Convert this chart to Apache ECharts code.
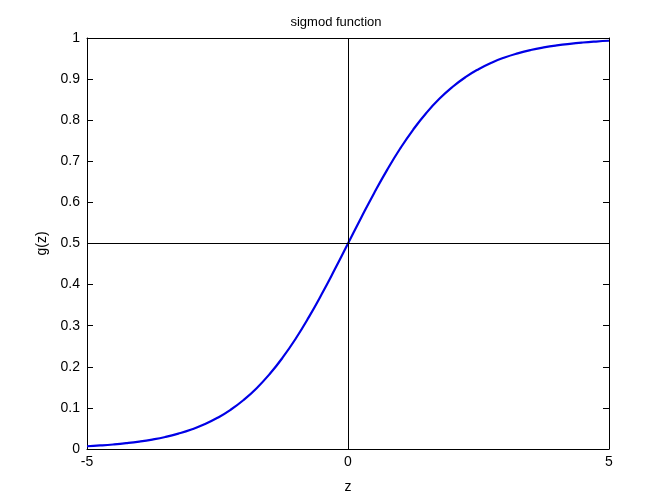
<!DOCTYPE html>
<html>
<head>
<meta charset="utf-8">
<script src="https://cdn.jsdelivr.net/npm/echarts@6/dist/echarts.min.js"></script>
<style>html,body{margin:0;padding:0;background:#fff}#c{width:672px;height:504px}</style>
</head>
<body>
<div id="c"></div>
<script>
const zValues = [-5,-4.75,-4.5,-4.25,-4,-3.75,-3.5,-3.25,-3,-2.75,-2.5,-2.25,-2,-1.75,-1.5,-1.25,-1,-0.75,-0.5,-0.25,0,0.25,0.5,0.75,1,1.25,1.5,1.75,2,2.25,2.5,2.75,3,3.25,3.5,3.75,4,4.25,4.5,4.75,5];
const gValues = [0.0067,0.0086,0.011,0.0141,0.018,0.023,0.0293,0.0374,0.0474,0.060,0.0759,0.0953,0.1192,0.148,0.1824,0.2227,0.2689,0.3208,0.3775,0.4378,0.5,0.5622,0.6225,0.6792,0.7311,0.7773,0.8176,0.852,0.8808,0.9047,0.9241,0.940,0.9526,0.9626,0.9707,0.977,0.982,0.9859,0.989,0.9914,0.9933];
const titleText = 'sigmod function';
const xLabel = 'z';
const yLabel = 'g(z)';

const font = 'Liberation Sans, Arial, sans-serif';
const chart = echarts.init(document.getElementById('c'), null, {renderer:'canvas'});
const axisLineStyle = {show:true, onZero:false, lineStyle:{color:'#000', width:1}};
chart.setOption({
  animation:false,
  backgroundColor:'#fff',
  title:{text:titleText, left:'center', top:11, textStyle:{fontFamily:font, fontSize:13, fontWeight:'normal', color:'#000'}},
  grid:{left:87, right:63, top:38, bottom:55, containLabel:false},
  xAxis:[
    {type:'value', min:-5, max:5, interval:5, position:'bottom',
     name:xLabel, nameLocation:'middle', nameGap:31, nameTextStyle:{fontFamily:font, fontSize:14, color:'#000'},
     axisLine:axisLineStyle, axisTick:{show:true, inside:true, length:6, lineStyle:{color:'#000'}},
     axisLabel:{fontFamily:font, fontSize:14, color:'#000', margin:6}, splitLine:{show:false}},
    {type:'value', min:-5, max:5, interval:5, position:'top',
     axisLine:axisLineStyle, axisTick:{show:true, inside:true, length:6, lineStyle:{color:'#000'}},
     axisLabel:{show:false}, splitLine:{show:false}}
  ],
  yAxis:[
    {type:'value', min:0, max:1, interval:0.1, position:'left',
     name:yLabel, nameLocation:'middle', nameGap:36, nameTextStyle:{fontFamily:font, fontSize:14, color:'#000'},
     axisLine:axisLineStyle, axisTick:{show:true, inside:true, length:6, lineStyle:{color:'#000'}},
     axisLabel:{fontFamily:font, fontSize:14, color:'#000', margin:7, formatter:v=>String(Math.round(v*10)/10)}, splitLine:{show:false}},
    {type:'value', min:0, max:1, interval:0.1, position:'right',
     axisLine:axisLineStyle, axisTick:{show:true, inside:true, length:6, lineStyle:{color:'#000'}},
     axisLabel:{show:false}, splitLine:{show:false}}
  ],
  series:[{
    type:'line', xAxisIndex:0, yAxisIndex:0,
    data: zValues.map((z,i)=>[z, gValues[i]]),
    smooth:true, showSymbol:false, symbol:'none',
    lineStyle:{color:'#0000e6', width:2.2},
    markLine:{silent:true, symbol:['none','none'], label:{show:false},
      lineStyle:{color:'#000', width:1, type:'solid'},
      data:[{xAxis:0},{yAxis:0.5}]},
    z:3
  }]
});
</script>
</body>
</html>
